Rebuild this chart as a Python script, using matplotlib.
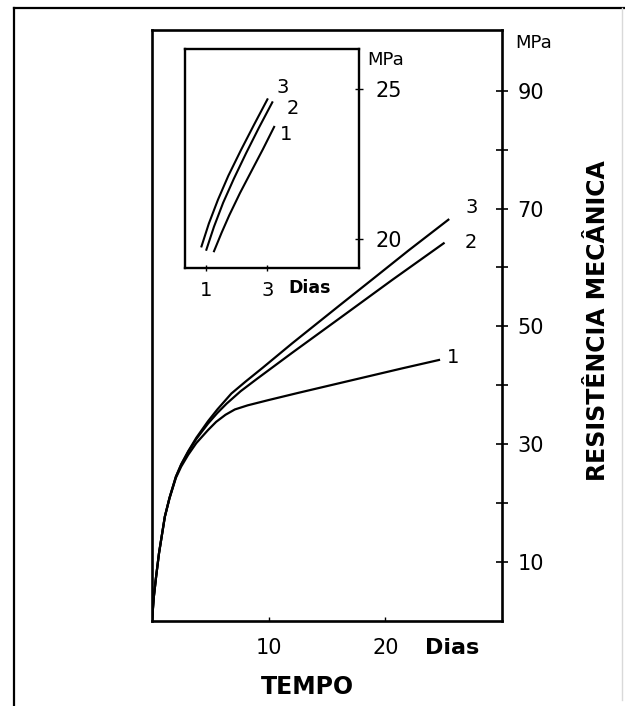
import numpy as np
import matplotlib.pyplot as plt
from matplotlib.lines import Line2D

# main chart: resistance (MPa) vs time (days), three cement types
days_1 = [0, 0.15, 0.35, 0.6, 1.1, 1.5, 2.05, 2.5, 3.1, 3.8, 4.8, 5.5, 6.3, 7.1, 8.2, 10.0,
          12.5, 15.5, 18.5, 21.5, 24.6]
mpa_1 = [0, 4.0, 7.5, 11.5, 17.7, 20.8, 24.3, 26.2, 28.2, 30.2, 32.4, 33.8, 35.0, 35.9, 36.6, 37.5,
         38.7, 40.1, 41.5, 42.9, 44.3]
days_2 = [0, 0.15, 0.35, 0.6, 1.1, 1.5, 2.05, 2.5, 3.1, 3.8, 4.8, 5.6, 6.4, 7.6, 9.0, 10.5,
          12.0, 16.1, 20.6, 25.0]
mpa_2 = [0, 4.0, 7.5, 11.5, 17.7, 20.9, 24.5, 26.5, 28.7, 30.9, 33.5, 35.3, 36.9, 39.0, 41.1, 43.3,
         45.5, 51.4, 57.9, 64.1]
days_3 = [0, 0.15, 0.35, 0.6, 1.1, 1.5, 2.05, 2.5, 3.1, 3.8, 4.8, 5.6, 6.8, 8.0, 9.5, 12.0,
          16.1, 18.9, 22.0, 25.4]
mpa_3 = [0, 4.0, 7.5, 11.5, 17.7, 20.9, 24.5, 26.6, 28.8, 31.1, 33.9, 35.9, 38.6, 40.6, 43.0, 47.1,
         53.6, 58.0, 62.9, 68.1]
curve_names = ['1', '2', '3']

# inset: first days
in_days_1 = [1.25, 1.5, 1.75, 2.1, 2.5, 2.85, 3.22]
in_mpa_1 = [19.58, 20.2, 20.78, 21.52, 22.3, 22.98, 23.73]
in_days_2 = [1.0, 1.25, 1.55, 1.9, 2.3, 2.72, 3.16]
in_mpa_2 = [19.63, 20.4, 21.2, 22.0, 22.85, 23.7, 24.55]
in_days_3 = [0.84, 1.08, 1.38, 1.72, 2.13, 2.56, 3.0]
in_mpa_3 = [19.74, 20.5, 21.3, 22.1, 22.95, 23.8, 24.65]

main_yticks = [10, 20, 30, 40, 50, 60, 70, 80, 90]
main_ylabels = ['10', '', '30', '', '50', '', '70', '', '90']
main_xticks = [10, 20]
inset_yticks = [20, 25]
inset_xticks = [1, 3]

W, H = 625, 706
fig = plt.figure(figsize=(W / 100, H / 100), dpi=100)

# outer frame of the scanned page
fig.add_artist(Line2D([14 / W, 14 / W], [0, 1 - 8 / H], color='black', lw=1.6))
fig.add_artist(Line2D([14 / W, 1], [1 - 8 / H, 1 - 8 / H], color='black', lw=1.6))
fig.add_artist(Line2D([622 / W, 622 / W], [6 / H, 1 - 8 / H], color='0.85', lw=1))

ax = fig.add_axes([152 / W, 85 / H, 350 / W, 591 / H])
ax.plot(days_1, mpa_1, color='black', lw=1.6, solid_joinstyle='round')
ax.plot(days_2, mpa_2, color='black', lw=1.6, solid_joinstyle='round')
ax.plot(days_3, mpa_3, color='black', lw=1.6, solid_joinstyle='round')
ax.set_xlim(0, 30)
ax.set_ylim(0, 100.3)
for s in ax.spines.values():
    s.set_linewidth(1.9)

ax.yaxis.tick_right()
ax.set_yticks(main_yticks, main_ylabels)
ax.set_xticks(main_xticks, [str(t) for t in main_xticks])
ax.tick_params(axis='y', direction='inout', length=8, width=1.2, pad=7, labelsize=15)
ax.tick_params(axis='x', direction='in', length=3, width=1, pad=12, labelsize=15)

ends = [(25.3, 44.7), (26.8, 64.3), (26.9, 70.1)]
for name, (ex, ey) in zip(curve_names, ends):
    ax.text(ex, ey, name, fontsize=14, ha='left', va='center')

ax.text(25.7, -0.045, 'Dias', transform=ax.get_xaxis_transform(),
        fontsize=16, fontweight='bold', ha='center', va='center')

fig.text(515 / W, 1 - 43 / H, 'MPa', fontsize=13, ha='left', va='center')
fig.text(307 / W, 1 - 687 / H, 'TEMPO', fontsize=17, fontweight='bold',
         ha='center', va='center')
fig.text(598 / W, 1 - 321 / H, 'RESISTÊNCIA MECÂNICA', fontsize=17,
         fontweight='bold', rotation=90, ha='center', va='center')

# inset
ax2 = fig.add_axes([185 / W, 1 - 268 / H, 174 / W, 219 / H])
ax2.plot(in_days_1, in_mpa_1, color='black', lw=1.5, solid_joinstyle='round')
ax2.plot(in_days_2, in_mpa_2, color='black', lw=1.5, solid_joinstyle='round')
ax2.plot(in_days_3, in_mpa_3, color='black', lw=1.5, solid_joinstyle='round')
ax2.set_xlim(0.3, 6.0)
ax2.set_ylim(19.02, 26.33)
for s in ax2.spines.values():
    s.set_linewidth(1.7)
ax2.yaxis.tick_right()
ax2.set_yticks(inset_yticks, [str(t) for t in inset_yticks])
ax2.set_xticks(inset_xticks, [str(t) for t in inset_xticks])
ax2.tick_params(axis='y', direction='inout', length=6, width=1, pad=9, labelsize=15)
ax2.tick_params(axis='x', direction='inout', length=5, width=1, pad=7, labelsize=14)

in_ends = [(3.41, 23.47), (3.63, 24.36), (3.30, 25.03)]
for name, (ex, ey) in zip(curve_names, in_ends):
    ax2.text(ex, ey, name, fontsize=14, ha='left', va='center')
ax2.text(4.39, -0.09, 'Dias', transform=ax2.get_xaxis_transform(),
         fontsize=12.5, fontweight='bold', ha='center', va='center')
fig.text(367 / W, 1 - 60 / H, 'MPa', fontsize=13, ha='left', va='center')

plt.savefig('out.png', dpi=100)
